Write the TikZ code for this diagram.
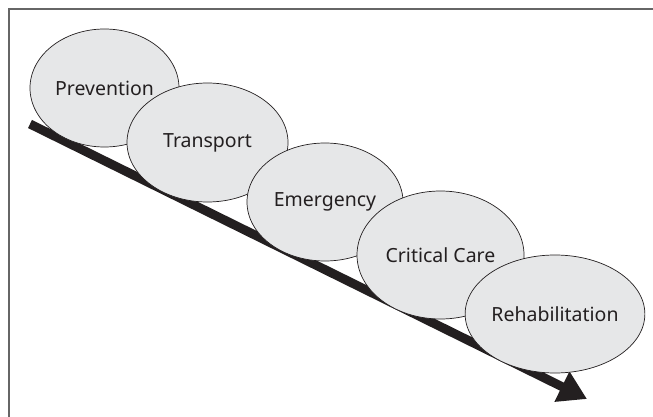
\documentclass[tikz,border=0pt]{standalone}
\usepackage{fontspec}
\setmainfont{Noto Sans}
\usetikzlibrary{arrows.meta,shapes.geometric}
\definecolor{stagefill}{HTML}{E6E7E8}
\definecolor{inkgray}{HTML}{231F20}

\begin{document}
\begin{tikzpicture}[x=1pt,y=-1pt]
\tikzset{font=\fontsize{19.5}{24}\selectfont, text=inkgray}
\tikzset{stage/.style = {shape=ellipse,draw=inkgray,line width=0.7pt,fill=stagefill,inner sep=0pt}}
\tikzset{flow/.style = {line width=9pt,draw=inkgray,-{Triangle[length=28pt,width=32pt]}}}
\useasboundingbox (0,0) rectangle (653,417);
% frame
\draw[line width=1.3pt,draw=gray!80!black] (9,417) -- (9,9) -- (653,9);
% arrow
\coordinate (start) at (30,124);
\coordinate (end) at (587,399);
\draw[flow] (start) to (end);
% stages
\node[stage,minimum width=149pt,minimum height=118pt] (prev) at (104.5,88) {Prevention};
\node[stage,minimum width=161pt,minimum height=119pt] (trans) at (207.5,142.5) {Transport};
\node[stage,minimum width=156pt,minimum height=118pt] (emerg) at (325,202) {Emergency};
\node[stage,minimum width=167pt,minimum height=128pt] (crit) at (440.5,255) {Critical Care};
\node[stage,minimum width=166pt,minimum height=118pt] (rehab) at (555,314) {Rehabilitation};
\end{tikzpicture}
\end{document}
